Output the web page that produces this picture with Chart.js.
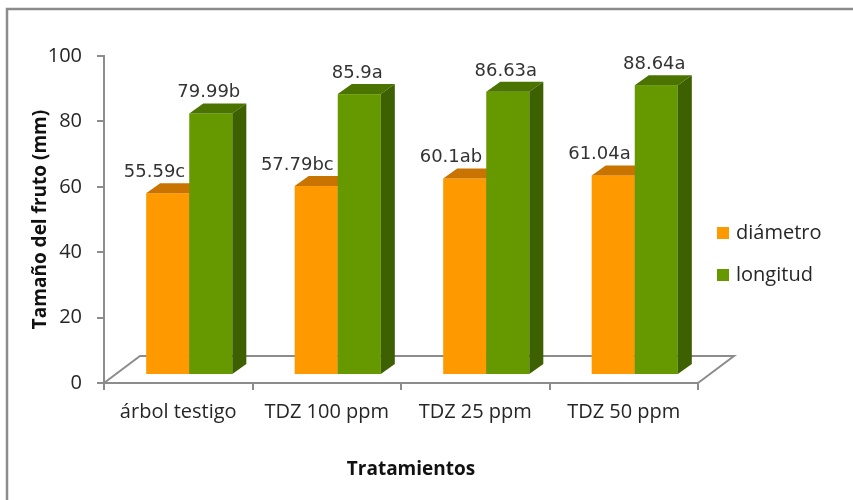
<!DOCTYPE html>
<html>
<head>
<meta charset="utf-8">
<script src="https://cdn.jsdelivr.net/npm/chart.js@4.4.0/dist/chart.umd.min.js"></script>
<style>
  html, body { margin: 0; padding: 0; background: #fff; }
</style>
</head>
<body>
<canvas id="chart" width="853" height="500"></canvas>
<script>
/* Values. */
const tratamientos = ["árbol testigo", "TDZ 100 ppm", "TDZ 25 ppm", "TDZ 50 ppm"]
const diametro = [55.59, 57.79, 60.1, 61.04]
const diametroLetras = ["c", "bc", "ab", "a"]
const longitud = [79.99, 85.9, 86.63, 88.64]
const longitudLetras = ["b", "a", "a", "a"]
const yTicks = [0, 20, 40, 60, 80, 100]

/* Face colours for the fake 3D bars. */
const faces = [
  { front: "#ff9900", top: "#c97300", side: "#b06400" },
  { front: "#669900", top: "#4a7300", side: "#3d6000" }
]
const letras = [diametroLetras, longitudLetras]

const axisGrey = "#8c8c8c"
const textColor = "#262626"

/* Draws the frame, the floor, the 3D bars, labels, titles and legend. */
const excel3d = {
  id: "excel3d",
  beforeDraw(chart) {
    const ctx = chart.ctx
    ctx.save()
    ctx.fillStyle = "#fff"
    ctx.fillRect(0, 0, chart.width, chart.height)
    ctx.strokeStyle = axisGrey
    ctx.lineWidth = 2.5
    ctx.strokeRect(7, 9, chart.width + 20, chart.height + 20)
    ctx.restore()
  },
  beforeDatasetsDraw(chart) {
    const ctx = chart.ctx
    const { left, right } = chart.chartArea
    const y0 = chart.scales.y.getPixelForValue(0)
    ctx.save()
    ctx.strokeStyle = axisGrey
    ctx.lineWidth = 2
    ctx.beginPath()
    ctx.moveTo(left, y0)
    ctx.lineTo(left + 36, y0 - 27)
    ctx.lineTo(right + 36, y0 - 27)
    ctx.lineTo(right, y0)
    ctx.stroke()
    ctx.restore()
  },
  beforeDatasetDraw() {
    return false
  },
  afterDatasetsDraw(chart) {
    const ctx = chart.ctx
    const sx = 11, sy = -8, dx = 14, dy = -10
    ctx.save()

    /* Bars. */
    chart.data.datasets.forEach((ds, i) => {
      const c = faces[i]
      chart.getDatasetMeta(i).data.forEach(bar => {
        const { x, y, base, width } = bar.getProps(["x", "y", "base", "width"], true)
        const l = x - width / 2 + sx
        const r = x + width / 2 + sx
        const t = y + sy
        const b = base + sy
        ctx.fillStyle = c.front
        ctx.fillRect(l, t, r - l, b - t)
        ctx.fillStyle = c.top
        ctx.beginPath()
        ctx.moveTo(l, t)
        ctx.lineTo(l + dx, t + dy)
        ctx.lineTo(r + dx, t + dy)
        ctx.lineTo(r, t)
        ctx.closePath()
        ctx.fill()
        ctx.fillStyle = c.side
        ctx.beginPath()
        ctx.moveTo(r, t)
        ctx.lineTo(r + dx, t + dy)
        ctx.lineTo(r + dx, b + dy)
        ctx.lineTo(r, b)
        ctx.closePath()
        ctx.fill()
      })
    })

    /* Data labels: value plus letter. */
    ctx.font = "18px 'DejaVu Sans'"
    ctx.fillStyle = "#333"
    ctx.textBaseline = "alphabetic"
    chart.data.datasets.forEach((ds, i) => {
      chart.getDatasetMeta(i).data.forEach((bar, j) => {
        const { x, y, width } = bar.getProps(["x", "y", "width"], true)
        const text = ds.data[j] + letras[i][j]
        const ty = y + sy + dy - 6
        if (i == 0) {
          ctx.textAlign = "right"
          ctx.fillText(text, x + width / 2 + sx - 4, ty)
        } else {
          ctx.textAlign = "center"
          ctx.fillText(text, x + sx - 2, ty)
        }
      })
    })

    /* Axis titles. */
    const area = chart.chartArea
    ctx.font = "bold 19px 'Open Sans'"
    ctx.fillStyle = "#111"
    ctx.textAlign = "center"
    ctx.textBaseline = "middle"
    ctx.fillText("Tratamientos", (area.left + area.right) / 2 + 10, 470)
    ctx.save()
    ctx.translate(41, (area.top + area.bottom) / 2)
    ctx.rotate(-Math.PI / 2)
    ctx.fillText("Tamaño del fruto (mm)", 0, 0)
    ctx.restore()

    /* Legend. */
    ctx.font = "20px 'Open Sans'"
    ctx.textAlign = "left"
    ctx.textBaseline = "middle"
    chart.data.datasets.forEach((ds, i) => {
      const ly = 233 + i * 42
      ctx.fillStyle = faces[i].front
      ctx.fillRect(area.right + 19, ly - 6, 12, 12)
      ctx.fillStyle = textColor
      ctx.fillText(ds.label, area.right + 38, ly)
    })

    ctx.restore()
  }
}

const ctx = document.getElementById("chart").getContext("2d")
const chart = new Chart(ctx, {
  type: "bar",
  data: {
    labels: tratamientos,
    datasets: [{
      label: "diámetro",
      data: diametro,
      backgroundColor: faces[0].front
    }, {
      label: "longitud",
      data: longitud,
      backgroundColor: faces[1].front
    }]
  },
  options: {
    responsive: false,
    animation: false,
    categoryPercentage: 0.58,
    barPercentage: 1,
    layout: { padding: { left: 0, top: 56, right: 155, bottom: 0 } },
    plugins: {
      legend: { display: false },
      tooltip: { enabled: false }
    },
    scales: {
      x: {
        grid: { drawOnChartArea: false, tickLength: 7, color: axisGrey, lineWidth: 2, offset: true },
        border: { color: axisGrey, width: 2 },
        ticks: { color: textColor, font: { family: "Open Sans", size: 20 }, padding: 10, maxRotation: 0 },
        afterFit: scale => { scale.height = 117 }
      },
      y: {
        min: 0,
        max: 100,
        afterBuildTicks: scale => { scale.ticks = yTicks.map(v => ({ value: v })) },
        grid: { drawOnChartArea: false, tickLength: 7, color: axisGrey, lineWidth: 2 },
        border: { color: axisGrey, width: 2 },
        ticks: { color: textColor, font: { family: "Open Sans", size: 20 }, padding: 15 },
        afterFit: scale => { scale.width = 104 }
      }
    }
  },
  plugins: [excel3d]
})
</script>
</body>
</html>
